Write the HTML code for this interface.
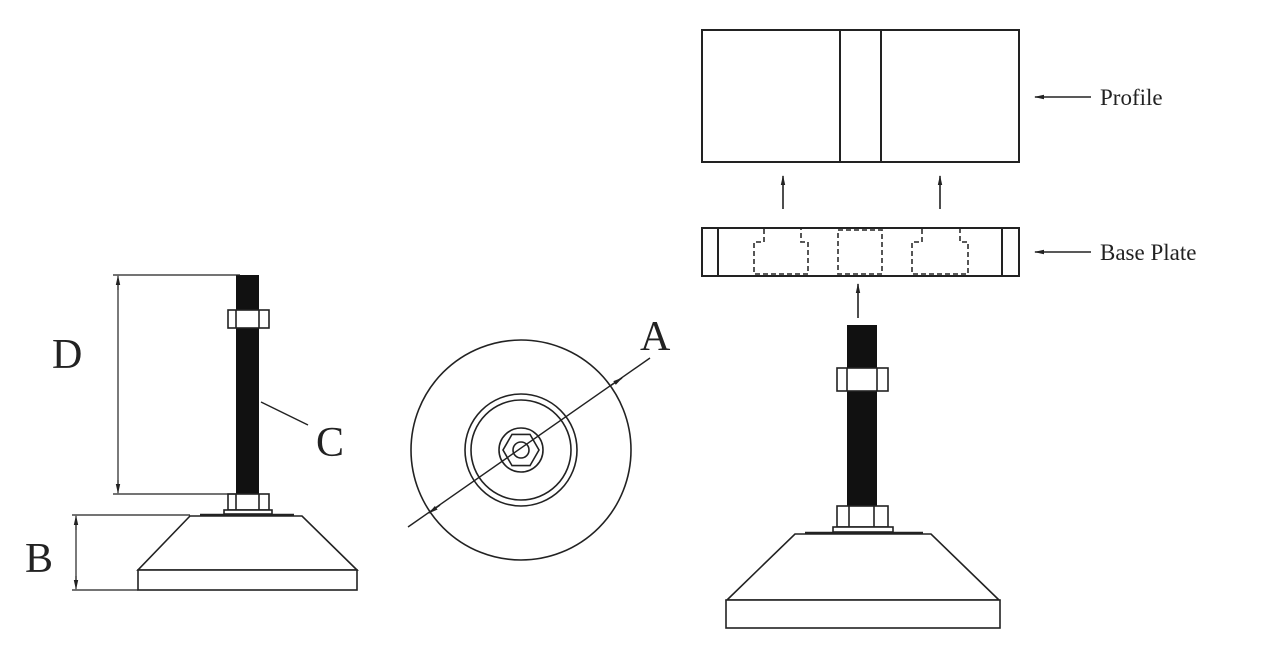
<!DOCTYPE html>
<html><head><meta charset="utf-8"><style>
html,body{margin:0;padding:0;background:#fff;}
svg{display:block;}
text{font-family:"Liberation Serif",serif;fill:#222;}
</style></head><body>
<svg width="1261" height="649" viewBox="0 0 1261 649" xmlns="http://www.w3.org/2000/svg">
<defs>
<marker id="ah" markerWidth="10" markerHeight="6" refX="9" refY="3" orient="auto" markerUnits="userSpaceOnUse">
<path d="M0,0.8 L10,3 L0,5.2 Z" fill="#222"/></marker>
</defs>
<g stroke="#222" stroke-width="1.6" fill="none">
<!-- LEFT FOOT -->
<rect x="236" y="275" width="23" height="219" fill="#111" stroke="none"/>
<rect x="228" y="310" width="41" height="18" fill="#fff"/>
<line x1="236" y1="310" x2="236" y2="328"/><line x1="259" y1="310" x2="259" y2="328"/>
<rect x="228" y="494" width="41" height="16" fill="#fff"/>
<line x1="236" y1="494" x2="236" y2="510"/><line x1="259" y1="494" x2="259" y2="510"/>
<rect x="224" y="510" width="48" height="4" fill="#fff"/>
<line x1="200" y1="515" x2="294" y2="515" stroke-width="2.5"/>
<path d="M190,516 L302,516 L357,570 L138,570 Z" fill="#fff"/>
<rect x="138" y="570" width="219" height="20" fill="#fff"/>
<!-- D dimension -->
<line x1="113" y1="275" x2="240" y2="275" stroke-width="1.2"/>
<line x1="113" y1="494" x2="236" y2="494" stroke-width="1.2"/>
<line x1="118" y1="285" x2="118" y2="484" stroke-width="1.2"/>
<line x1="118" y1="290" x2="118" y2="276" marker-end="url(#ah)" stroke-width="1.2"/>
<line x1="118" y1="480" x2="118" y2="493" marker-end="url(#ah)" stroke-width="1.2"/>
<!-- B dimension -->
<line x1="72" y1="515" x2="190" y2="515" stroke-width="1.2"/>
<line x1="72" y1="590" x2="138" y2="590" stroke-width="1.2"/>
<line x1="76" y1="525" x2="76" y2="580" stroke-width="1.2"/>
<line x1="76" y1="530" x2="76" y2="516" marker-end="url(#ah)" stroke-width="1.2"/>
<line x1="76" y1="576" x2="76" y2="589" marker-end="url(#ah)" stroke-width="1.2"/>
<!-- C leader -->
<line x1="261" y1="402" x2="308" y2="425" stroke-width="1.4"/>

<!-- CIRCLE VIEW -->
<circle cx="521" cy="450" r="110"/>
<circle cx="521" cy="450" r="56"/>
<circle cx="521" cy="450" r="50"/>
<circle cx="521" cy="450" r="22"/>
<polygon points="539,450 530,465.6 512,465.6 503,450 512,434.4 530,434.4"/>
<circle cx="521" cy="450" r="8"/>
<line x1="408" y1="527" x2="650" y2="358" stroke-width="1.4"/>
<line x1="440" y1="505" x2="429" y2="513" marker-end="url(#ah)" stroke-width="1.4"/>
<line x1="610" y1="386" x2="622" y2="378" marker-end="url(#ah)" stroke-width="1.4"/>

<!-- PROFILE -->
<rect x="702" y="30" width="317" height="132" stroke-width="2"/>
<line x1="840" y1="30" x2="840" y2="162" stroke-width="2"/>
<line x1="881" y1="30" x2="881" y2="162" stroke-width="2"/>
<line x1="783" y1="209" x2="783" y2="176" marker-end="url(#ah)" stroke-width="1.6"/>
<line x1="940" y1="209" x2="940" y2="176" marker-end="url(#ah)" stroke-width="1.6"/>

<!-- BASE PLATE -->
<rect x="702" y="228" width="317" height="48" stroke-width="2"/>
<line x1="718" y1="228" x2="718" y2="276" stroke-width="2"/>
<line x1="1002" y1="228" x2="1002" y2="276" stroke-width="2"/>
<g stroke-dasharray="5,3" stroke="#444" stroke-width="1.8">
<path d="M764,229 L764,242 L754,242 L754,274 L808,274 L808,242 L801,242 L801,229"/>
<rect x="838" y="230" width="44" height="44"/>
<path d="M922,229 L922,242 L912,242 L912,274 L968,274 L968,242 L960,242 L960,229"/>
</g>
<line x1="858" y1="318" x2="858" y2="284" marker-end="url(#ah)" stroke-width="1.6"/>

<!-- RIGHT FOOT -->
<rect x="847" y="325" width="30" height="182" fill="#111" stroke="none"/>
<rect x="837" y="368" width="51" height="23" fill="#fff"/>
<line x1="847" y1="368" x2="847" y2="391"/><line x1="877" y1="368" x2="877" y2="391"/>
<rect x="837" y="506" width="51" height="21" fill="#fff"/>
<line x1="849" y1="506" x2="849" y2="527"/><line x1="874" y1="506" x2="874" y2="527"/>
<rect x="833" y="527" width="60" height="5" fill="#fff"/>
<line x1="805" y1="533" x2="923" y2="533" stroke-width="2.5"/>
<path d="M795,534 L931,534 L999,600 L727,600 Z" fill="#fff"/>
<rect x="726" y="600" width="274" height="28" fill="#fff"/>

<!-- label arrows -->
<line x1="1091" y1="97" x2="1035" y2="97" marker-end="url(#ah)" stroke-width="1.4"/>
<line x1="1091" y1="252" x2="1035" y2="252" marker-end="url(#ah)" stroke-width="1.4"/>
</g>
<text x="52" y="368" font-size="42">D</text>
<text x="25" y="572" font-size="42">B</text>
<text x="316" y="456" font-size="42">C</text>
<text x="640" y="350" font-size="42">A</text>
<text x="1100" y="105" font-size="23">Profile</text>
<text x="1100" y="260" font-size="23">Base Plate</text>
</svg>
</body></html>
